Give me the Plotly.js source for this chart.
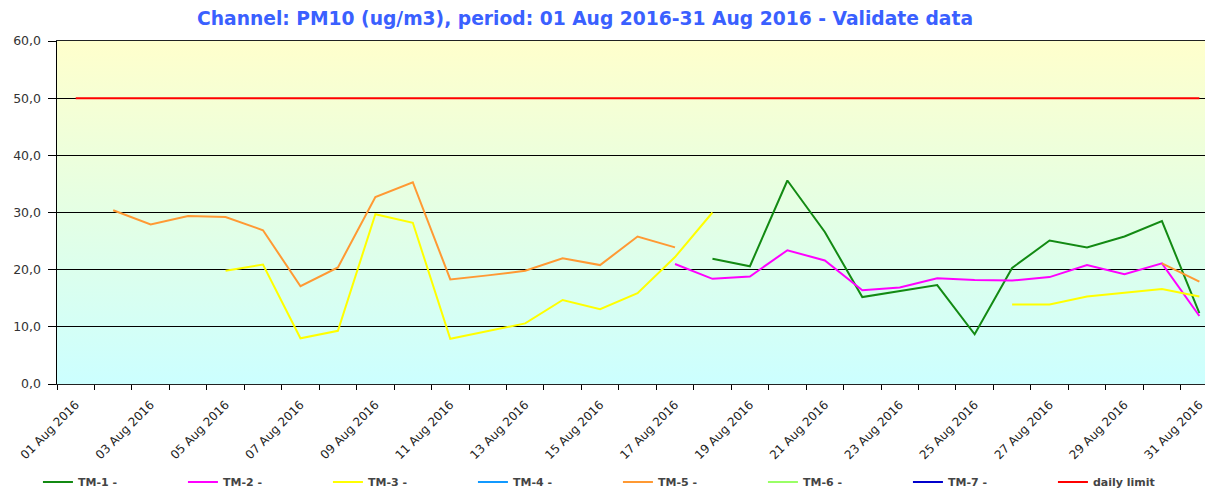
<!DOCTYPE html>
<html>
<head>
<meta charset="utf-8">
<script src="https://cdn.plot.ly/plotly-3.0.1.min.js"></script>
<style>html,body{margin:0;padding:0;background:#fff;}#chart{width:1205px;height:490px;}</style>
</head>
<body>
<div id="chart"></div>
<script>
// ---- data ----
const days = ['2016-08-01','2016-08-02','2016-08-03','2016-08-04','2016-08-05','2016-08-06','2016-08-07','2016-08-08','2016-08-09','2016-08-10',
  '2016-08-11','2016-08-12','2016-08-13','2016-08-14','2016-08-15','2016-08-16','2016-08-17','2016-08-18','2016-08-19','2016-08-20',
  '2016-08-21','2016-08-22','2016-08-23','2016-08-24','2016-08-25','2016-08-26','2016-08-27','2016-08-28','2016-08-29','2016-08-30','2016-08-31'];
const tickDays = ['2016-08-01','2016-08-03','2016-08-05','2016-08-07','2016-08-09','2016-08-11','2016-08-13','2016-08-15',
  '2016-08-17','2016-08-19','2016-08-21','2016-08-23','2016-08-25','2016-08-27','2016-08-29','2016-08-31'];
const tm1 = [null,null,null,null,null,null,null,null,null,null,null,null,null,null,null,null,null,
  21.9,20.6,35.6,26.6,15.2,16.3,17.3,8.7,20.3,25.1,23.9,25.8,28.5,12.4];
const tm2 = [null,null,null,null,null,null,null,null,null,null,null,null,null,null,null,null,
  21.0,18.4,18.8,23.4,21.6,16.4,16.9,18.5,18.2,18.1,18.7,20.8,19.2,21.1,11.9];
const tm3 = [null,null,null,null,19.8,20.9,8.0,9.3,29.7,28.2,7.9,9.2,10.6,14.7,13.1,15.9,22.2,30.0,
  null,null,null,null,null,null,null,13.9,13.9,15.3,16.0,16.6,15.3];
const tm4 = [null,null,null,null,null,null,null,null,null,null,null,null,null,null,null,null,
  null,null,null,null,null,null,null,null,null,null,null,null,null,null,null];
const tm5 = [null,30.4,27.9,29.4,29.2,26.9,17.1,20.4,32.7,35.3,18.3,19.0,19.8,22.0,20.8,25.8,23.9,
  null,null,null,null,null,null,null,null,null,null,null,null,21.1,17.9];
const tm6 = [null,null,null,null,null,null,null,null,null,null,null,null,null,null,null,null,
  null,null,null,null,null,null,null,null,null,null,null,null,null,null,null];
const tm7 = [null,null,null,null,null,null,null,null,null,null,null,null,null,null,null,null,
  null,null,null,null,null,null,null,null,null,null,null,null,null,null,null];
const dailyLimit = [50,50,50,50,50,50,50,50,50,50,50,50,50,50,50,50,50,50,50,50,50,50,50,50,50,50,50,50,50,50,50];

const seriesNames = ['TM-1 -','TM-2 -','TM-3 -','TM-4 -','TM-5 -','TM-6 -','TM-7 -','daily limit'];
const seriesValues = [tm1,tm2,tm3,tm4,tm5,tm6,tm7,dailyLimit];
const seriesColors = ['#138a13','#ff00ff','#ffff00','#1199ff','#ff9933','#99ff66','#0000cc','#ff0000'];

const traces = seriesValues.map((vals, i) => ({
  type: 'scatter', mode: 'lines', name: seriesNames[i],
  x: days, y: vals,
  line: {color: seriesColors[i], width: 2},
  connectgaps: false, showlegend: true, hoverinfo: 'x+y+name'
}));

const bgSvg = "<svg xmlns='http://www.w3.org/2000/svg' width='10' height='100' viewBox='0 0 10 100' preserveAspectRatio='none'>" +
  "<defs><linearGradient id='g' x1='0' y1='0' x2='0' y2='1'><stop offset='0' stop-color='#ffffcc'/>" +
  "<stop offset='0.5' stop-color='#e4ffe4'/><stop offset='1' stop-color='#ccffff'/></linearGradient></defs>" +
  "<rect x='0' y='0' width='10' height='100' fill='url(#g)'/></svg>";
const bgUri = 'data:image/svg+xml;charset=utf-8,' + encodeURIComponent(bgSvg);

const layout = {
  width: 1205, height: 490,
  margin: {l: 57, r: 0, t: 41, b: 106, autoexpand: false},
  paper_bgcolor: '#ffffff',
  plot_bgcolor: '#e6ffe6',
  separators: ',.',
  title: {
    text: 'Channel: PM10 (ug/m3), period: 01 Aug 2016-31 Aug 2016 - Validate data',
    font: {family: 'DejaVu Sans', size: 18.7, color: '#3a60ff', weight: 'bold'},
    x: 585/1205, xanchor: 'center', xref: 'container',
    y: 1 - 18/490, yanchor: 'middle', yref: 'container'
  },
  images: [{source: bgUri, xref: 'paper', yref: 'paper', x: 0, y: 1, sizex: 1, sizey: 1,
    sizing: 'stretch', xanchor: 'left', yanchor: 'top', layer: 'below'}],
  xaxis: {
    type: 'date',
    range: ['2016-07-31 12:00', '2016-08-31 03:36'],
    tickvals: tickDays,
    tickformat: '%d %b %Y',
    tickangle: -45,
    ticks: '',
    ticklabelstandoff: 8,
    ticklabeloverflow: 'allow',
    minor: {tick0: '2016-07-31 12:00', dtick: 86400000, ticks: 'outside', ticklen: 5, tickcolor: '#000', tickwidth: 1, showgrid: false},
    showgrid: false,
    showline: true, linecolor: '#222', linewidth: 1, mirror: true,
    tickfont: {family: 'DejaVu Sans', size: 12, color: '#222'},
    zeroline: false, fixedrange: true, automargin: false
  },
  yaxis: {
    range: [0, 60], dtick: 10, tick0: 0,
    tickformat: '.1f',
    ticks: 'outside', ticklen: 8, tickcolor: '#000', tickwidth: 1,
    ticklabelstandoff: 4,
    showgrid: true, gridcolor: '#000', gridwidth: 1,
    showline: true, linecolor: '#000', linewidth: 1.5,
    zeroline: false,
    tickfont: {family: 'DejaVu Sans', size: 12.5, color: '#333'},
    fixedrange: true, automargin: false
  },
  showlegend: true,
  legend: {
    orientation: 'h',
    x: -0.0166, xanchor: 'left', xref: 'paper',
    y: -0.2857, yanchor: 'middle', yref: 'paper',
    entrywidth: 100, entrywidthmode: 'pixels',
    font: {family: 'DejaVu Sans', size: 11, color: '#444', weight: 'bold'},
    bgcolor: 'rgba(0,0,0,0)',
    traceorder: 'normal'
  }
};

Plotly.newPlot('chart', traces, layout, {displayModeBar: false, staticPlot: true});
</script>
</body>
</html>
